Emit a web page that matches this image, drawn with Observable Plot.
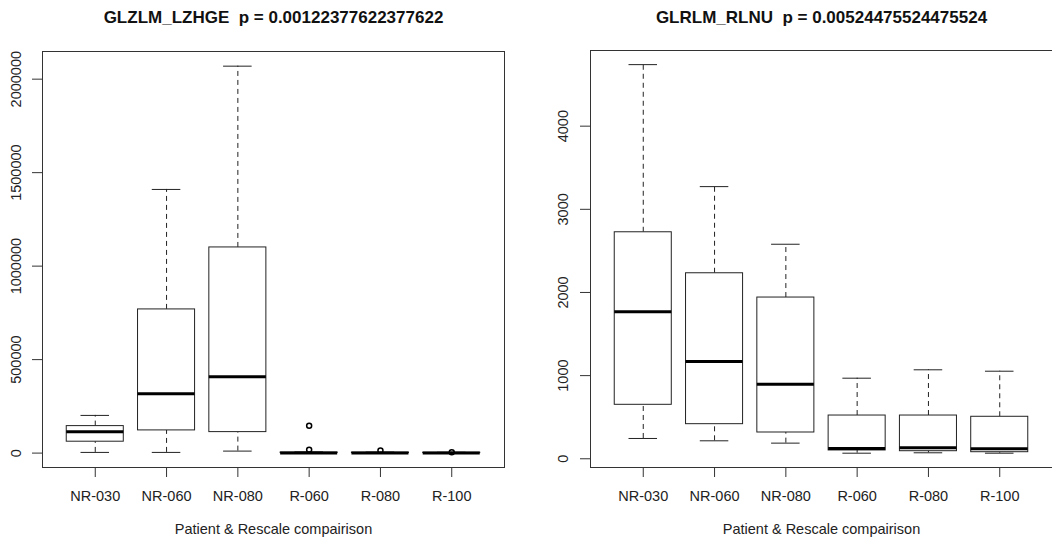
<!DOCTYPE html>
<html>
<head>
<meta charset="utf-8">
<script src="https://cdn.jsdelivr.net/npm/d3@7"></script>
<script src="https://cdn.jsdelivr.net/npm/@observablehq/plot@0.6"></script>
<style>
  html, body { margin: 0; padding: 0; background: #fff; }
  #wrap { display: flex; width: 1052px; height: 542px; overflow: hidden; }
  #wrap > div { width: 526px; height: 542px; }
  svg { display: block; }
</style>
</head>
<body>
<div id="wrap"><div id="left"></div><div id="right"></div></div>
<script>
const categories = ["NR-030", "NR-060", "NR-080", "R-060", "R-080", "R-100"];

// GLZLM_LZHGE
const lzhgeTitle = "GLZLM_LZHGE  p = 0.00122377622377622";
const lzhgeLow    = [3700, 3700, 10700, 0, 0, 0];
const lzhgeQ1     = [61000, 121400, 112300, 300, 300, 200];
const lzhgeMedian = [114400, 317600, 408600, 1200, 1000, 800];
const lzhgeQ3     = [144400, 768500, 1100000, 3000, 2500, 2000];
const lzhgeHigh   = [201600, 1410200, 2069600, 6500, 5500, 4500];
const lzhgeOutGroup = ["R-060", "R-060", "R-080", "R-100"];
const lzhgeOutValue = [146500, 18000, 14000, 5000];
const lzhgeTicks = [0, 500000, 1000000, 1500000, 2000000];

// GLRLM_RLNU
const rlnuTitle = "GLRLM_RLNU  p = 0.00524475524475524";
const rlnuLow    = [244, 216, 188, 67, 72, 67];
const rlnuQ1     = [649, 416, 316, 100, 91, 79];
const rlnuMedian = [1767, 1170, 897, 124, 132, 120];
const rlnuQ3     = [2724, 2231, 1939, 520, 520, 505];
const rlnuHigh   = [4740, 3273, 2580, 969, 1070, 1053];
const rlnuOutGroup = [];
const rlnuOutValue = [];
const rlnuTicks = [0, 1000, 2000, 3000, 4000];

const xLabel = "Patient & Rescale compairison";
const FONT = "'Liberation Sans', Arial, Helvetica, sans-serif";

function panel({title, low, q1, median, q3, high, outGroup, outValue, ticks, yDomain, marginLeft, marginRight, marginTop, labelDx}) {
  const rows = categories.map((c, i) => ({
    pos: i + 1, low: low[i], q1: q1[i], median: median[i], q3: q3[i], high: high[i]
  }));
  const outs = outGroup.map((g, i) => ({pos: categories.indexOf(g) + 1, value: outValue[i]}));
  return Plot.plot({
    width: 526,
    height: 542,
    marginLeft, marginRight, marginTop,
    marginBottom: 75,
    style: {fontFamily: FONT, fontSize: "14.5px", color: "#222", background: "#fff"},
    x: {type: "linear", domain: [0.26, 6.74]},
    y: {domain: yDomain},
    marks: [
      // whiskers
      Plot.ruleX(rows, {x: "pos", y1: "q3", y2: "high", stroke: "#222", strokeDasharray: "5,4"}),
      Plot.ruleX(rows, {x: "pos", y1: "low", y2: "q1", stroke: "#222", strokeDasharray: "5,4"}),
      // whisker caps
      Plot.ruleY(rows, {y: "high", x1: d => d.pos - 0.2, x2: d => d.pos + 0.2, stroke: "#222"}),
      Plot.ruleY(rows, {y: "low", x1: d => d.pos - 0.2, x2: d => d.pos + 0.2, stroke: "#222"}),
      // boxes
      Plot.rect(rows, {x1: d => d.pos - 0.4, x2: d => d.pos + 0.4, y1: "q1", y2: "q3", fill: "white", stroke: "#222"}),
      // medians
      Plot.ruleY(rows, {y: "median", x1: d => d.pos - 0.4, x2: d => d.pos + 0.4, stroke: "#000", strokeWidth: 3}),
      // outliers
      Plot.dot(outs, {x: "pos", y: "value", r: 2.5, stroke: "#000", fill: "none"}),
      Plot.frame({stroke: "#333"}),
      Plot.axisX({ticks: [1, 2, 3, 4, 5, 6], tickFormat: i => categories[i - 1], tickSize: 10, tickPadding: 13, label: null, stroke: "#333", fontSize: 14.5, fill: "#222"}),
      Plot.axisY({ticks, tickSize: 10, tickFormat: () => "", label: null, stroke: "#333"}),
      Plot.text(ticks, {y: d => d, text: d => String(d), frameAnchor: "left", textAnchor: "middle", lineAnchor: "middle", dx: labelDx, rotate: -90, fontSize: 14.5, fill: "#222"}),
      Plot.text([xLabel], {text: d => d, frameAnchor: "bottom", lineAnchor: "middle", dy: 62, fontSize: 14.5, fill: "#222"}),
      Plot.text([title], {text: d => d, frameAnchor: "top", lineAnchor: "middle", dy: 17.5 - marginTop, fontSize: 17, fontWeight: "bold", fill: "#111"})
    ]
  });
}

document.getElementById("left").append(panel({
  title: lzhgeTitle, low: lzhgeLow, q1: lzhgeQ1, median: lzhgeMedian, q3: lzhgeQ3, high: lzhgeHigh,
  outGroup: lzhgeOutGroup, outValue: lzhgeOutValue, ticks: lzhgeTicks,
  yDomain: [-77000, 2148000], marginLeft: 42, marginRight: 22, marginTop: 51, labelDx: -26
}));
document.getElementById("right").append(panel({
  title: rlnuTitle, low: rlnuLow, q1: rlnuQ1, median: rlnuMedian, q3: rlnuQ3, high: rlnuHigh,
  outGroup: rlnuOutGroup, outValue: rlnuOutValue, ticks: rlnuTicks,
  yDomain: [-105, 4910], marginLeft: 64, marginRight: 0, marginTop: 50, labelDx: -27
}));
</script>
</body>
</html>
